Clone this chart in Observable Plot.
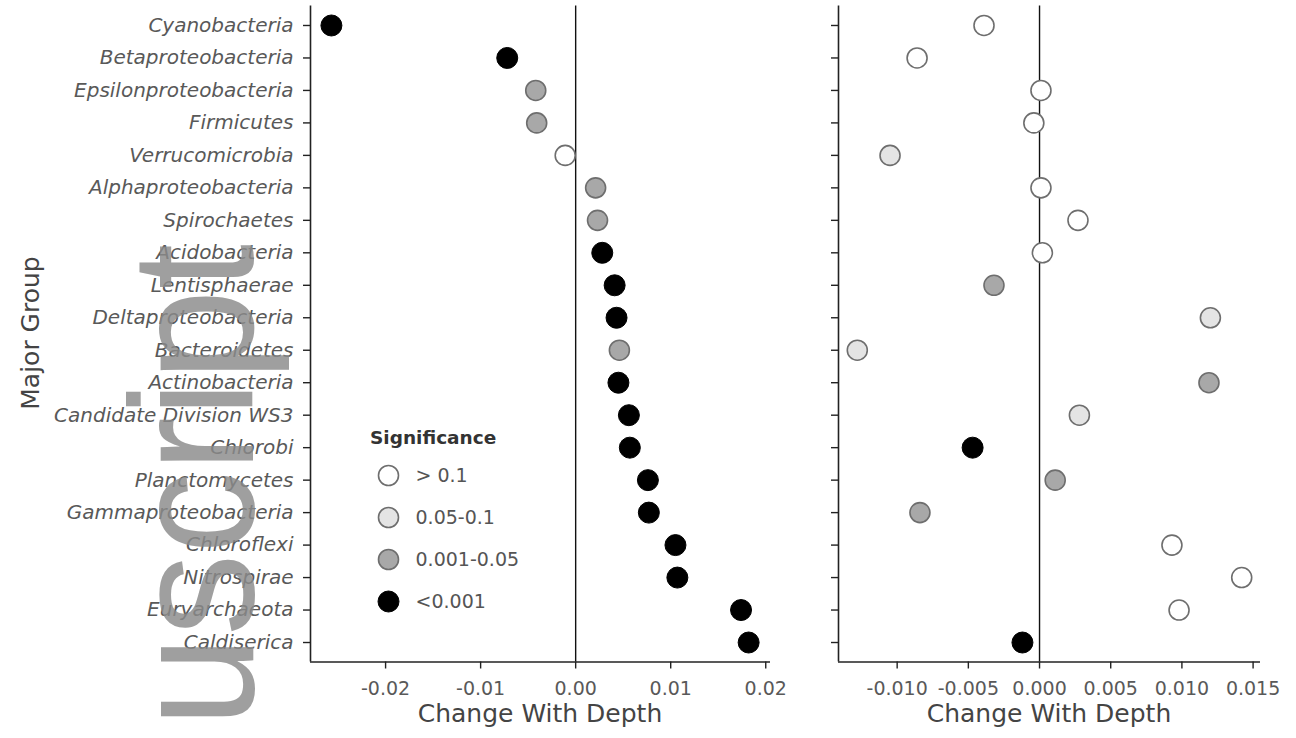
<!DOCTYPE html>
<html><head><meta charset="utf-8">
<script src="https://cdn.jsdelivr.net/npm/d3@7"></script>
<script src="https://cdn.jsdelivr.net/npm/@observablehq/plot@0.6"></script>
<style>
body{margin:0;background:#fff;}
#wrap{position:relative;width:1296px;height:738px;overflow:hidden;font-family:"DejaVu Sans",sans-serif;background:#fff;}
.panel{position:absolute;top:0;}
.ttl{position:absolute;color:#444;font-size:25px;white-space:nowrap;font-family:"DejaVu Sans",sans-serif;}
[aria-label="y-axis tick label"]{font-style:italic;font-size:20px;}
[aria-label="y-axis tick label"] text,[aria-label="x-axis tick label"] text{fill:#595959;}
#wm{position:absolute;left:0;top:0;pointer-events:none;}
</style></head><body><div id="wrap"></div>
<script>
const groups = ["Cyanobacteria", "Betaproteobacteria", "Epsilonproteobacteria", "Firmicutes", "Verrucomicrobia", "Alphaproteobacteria", "Spirochaetes", "Acidobacteria", "Lentisphaerae", "Deltaproteobacteria", "Bacteroidetes", "Actinobacteria", "Candidate Division WS3", "Chlorobi", "Planctomycetes", "Gammaproteobacteria", "Chloroflexi", "Nitrospirae", "Euryarchaeota", "Caldiserica"];
const leftValues = [-0.0257, -0.0072, -0.0042, -0.0041, -0.0011, 0.0021, 0.0023, 0.0028, 0.0041, 0.0043, 0.0046, 0.0045, 0.0056, 0.0057, 0.0076, 0.0077, 0.0105, 0.0107, 0.0174, 0.0182];
const leftSig = ["<0.001","<0.001","0.001-0.05","0.001-0.05","> 0.1","0.001-0.05","0.001-0.05","<0.001","<0.001","<0.001","0.001-0.05","<0.001","<0.001","<0.001","<0.001","<0.001","<0.001","<0.001","<0.001","<0.001"];
const rightValues = [-0.0039, -0.0086, 0.0001, -0.0004, -0.0105, 0.0001, 0.0027, 0.0002, -0.0032, 0.0120, -0.0128, 0.0119, 0.0028, -0.0047, 0.0011, -0.0084, 0.0093, 0.0142, 0.0098, -0.0012];
const rightSig = ["> 0.1","> 0.1","> 0.1","> 0.1","0.05-0.1","> 0.1","> 0.1","> 0.1","0.001-0.05","0.05-0.1","0.05-0.1","0.001-0.05","0.05-0.1","<0.001","0.001-0.05","0.001-0.05","> 0.1","> 0.1","> 0.1","<0.001"];
const sigLevels = ["> 0.1","0.05-0.1","0.001-0.05","<0.001"];
const sigFills = ["#ffffff","#e4e4e4","#a8a8a8","#000000"];
const leftTicks = [-0.02,-0.01,0,0.01,0.02];
const rightTicks = [-0.010,-0.005,0,0.005,0.010,0.015];
const xTitle = "Change With Depth";
const yTitle = "Major Group";
const legendTitle = "Significance";
const watermark = "uscript";

const leftData = groups.map((g,i)=>({group:g, idx:i, value:leftValues[i], sig:leftSig[i]}));
const rightData = groups.map((g,i)=>({group:g, idx:i, value:rightValues[i], sig:rightSig[i]}));
const wrap = document.getElementById("wrap");
const yLo = -0.6, yHi = groups.length - 0.4;

function panel(data, opts){
  return Plot.plot({
    width: opts.width, height: 738,
    marginLeft: opts.ml, marginRight: opts.mr, marginTop: 5.5, marginBottom: 76.5,
    style: {fontFamily: "DejaVu Sans, sans-serif", fontSize: "19px", color: "#222", background: "white"},
    x: {domain: opts.domain, label: null},
    y: {domain: [yLo, yHi], reverse: true, label: null},
    color: {type: "ordinal", domain: sigLevels, range: sigFills},
    marks: [
      Plot.ruleX([0], {stroke: "#111", strokeWidth: 1.4}),
      Plot.ruleX([opts.domain[0]], {stroke: "#222", strokeWidth: 1.6}),
      Plot.ruleY([yHi], {stroke: "#222", strokeWidth: 1.6}),
      Plot.axisX({ticks: opts.ticks, tickFormat: opts.fmt, tickSize: 7, tickPadding: 12, strokeWidth: 1.4}),
      Plot.axisY({ticks: d3.range(groups.length), tickSize: 7, tickPadding: 10, strokeWidth: 1.4, tickFormat: opts.yfmt}),
      Plot.dot(data, {filter: d => d.sig !== "<0.001", x: "value", y: "idx", fill: "sig", stroke: "#6e6e6e", strokeWidth: 1.6, r: 10}),
      Plot.dot(data, {filter: d => d.sig === "<0.001", x: "value", y: "idx", fill: "sig", stroke: "#000", strokeWidth: 1, r: 10.5})
    ]
  });
}

const left = panel(leftData, {width: 790, ml: 310, mr: 20, domain: [-0.0279, 0.0205], ticks: leftTicks, fmt: d => d.toFixed(2), yfmt: i => groups[i]});
left.classList.add("panel"); left.style.left = "0px";
wrap.appendChild(left);

const right = panel(rightData, {width: 506, ml: 48, mr: 36, domain: [-0.01412, 0.01552], ticks: rightTicks, fmt: d => d.toFixed(3), yfmt: () => ""});
right.classList.add("panel"); right.style.left = "790px";
wrap.appendChild(right);

// legend
const legend = Plot.plot({
  width: 200, height: 170, margin: 0,
  style: {fontFamily: "DejaVu Sans, sans-serif", fontSize: "19px", background: "transparent"},
  y: {type: "point", domain: sigLevels, range: [20, 147], padding: 0, axis: null},
  color: {type: "ordinal", domain: sigLevels, range: sigFills},
  marks: [
    Plot.dot(sigLevels, {filter: d => d !== "<0.001", y: d => d, fill: d => d, frameAnchor: "left", dx: 18, r: 10, stroke: "#6e6e6e", strokeWidth: 1.6}),
    Plot.dot(sigLevels, {filter: d => d === "<0.001", y: d => d, fill: d => d, frameAnchor: "left", dx: 18, r: 10.5, stroke: "#000", strokeWidth: 1}),
    Plot.text(sigLevels, {y: d => d, text: d => d, frameAnchor: "left", dx: 45, textAnchor: "start", fill: "#555", fontSize: 19})
  ]
});
legend.style.position = "absolute"; legend.style.left = "370px"; legend.style.top = "454px";
wrap.appendChild(legend);

function addText(txt, x, y, extra, css){
  const d = document.createElement("div");
  d.className = "ttl"; d.textContent = txt;
  d.style.left = x + "px"; d.style.top = y + "px";
  d.style.transform = extra;
  if (css) Object.assign(d.style, css);
  wrap.appendChild(d);
}
addText(xTitle, 540, 713, "translate(-50%,-50%)");
addText(xTitle, 1049, 713, "translate(-50%,-50%)");
addText(yTitle, 30, 333, "translate(-50%,-50%) rotate(-90deg)");
addText(legendTitle, 370, 437, "translate(0,-50%)", {fontWeight: "bold", fontSize: "18.5px", color: "#333"});

// watermark overlay
const ns = "http://www.w3.org/2000/svg";
const wm = document.createElementNS(ns, "svg");
wm.setAttribute("id", "wm"); wm.setAttribute("width", 1296); wm.setAttribute("height", 738);
const t = document.createElementNS(ns, "text");
t.setAttribute("transform", "translate(253,244) scale(1.06,1) rotate(-90)");
t.setAttribute("text-anchor", "end");
t.setAttribute("font-family", "Liberation Sans, Arial, sans-serif");
t.setAttribute("font-size", "164");
t.setAttribute("fill", "#8a8a8a");
t.setAttribute("fill-opacity", "0.82");
t.textContent = watermark;
wm.appendChild(t);
wrap.appendChild(wm);
</script>
</body></html>
